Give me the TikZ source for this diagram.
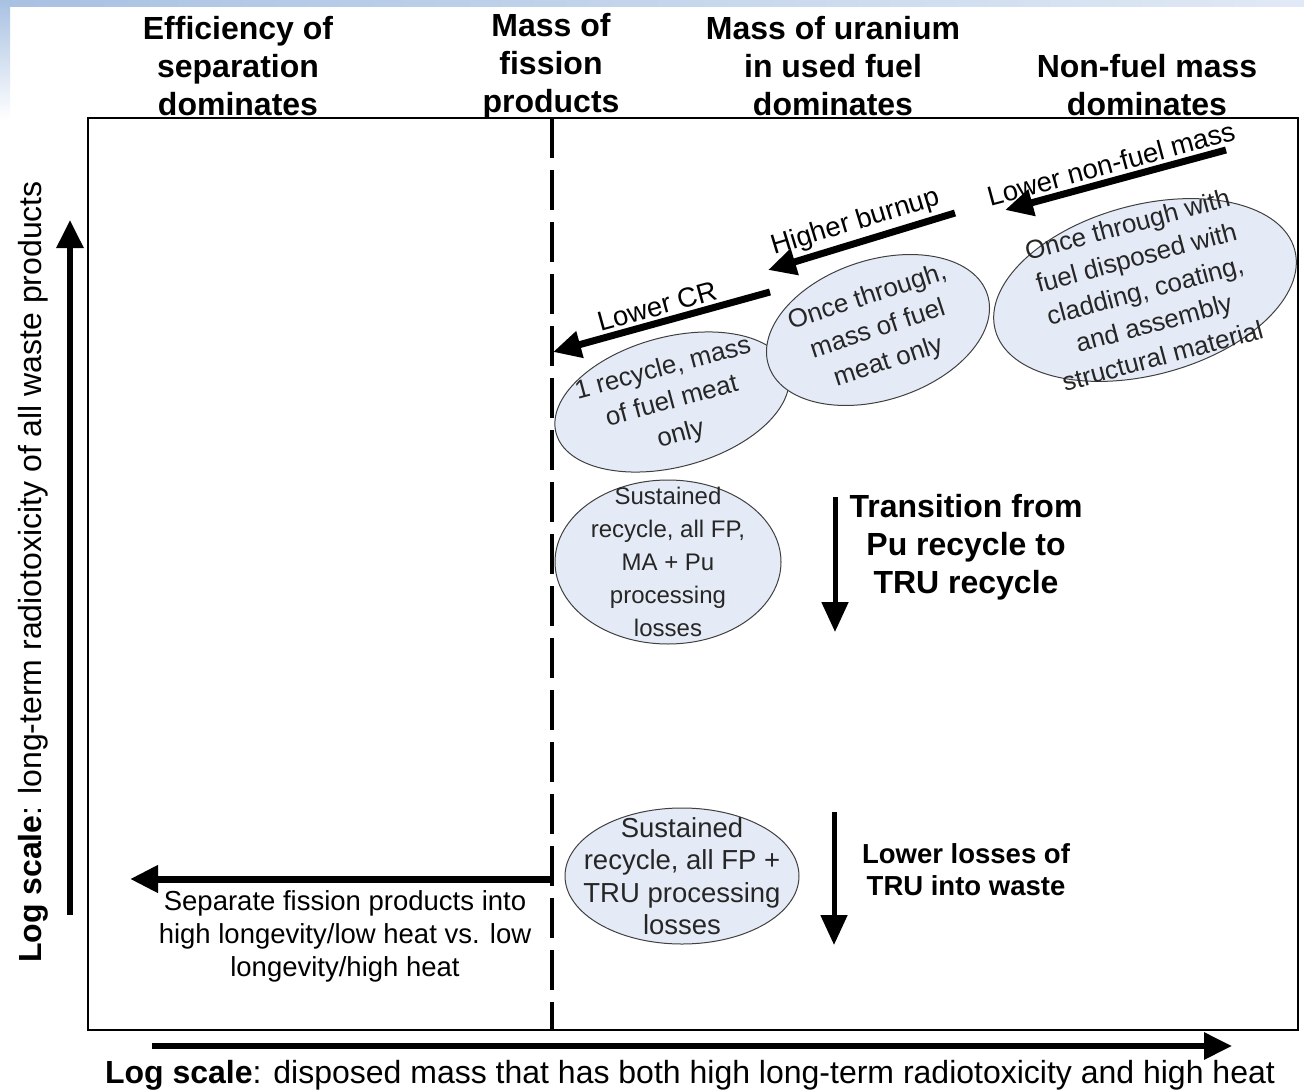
\documentclass[tikz,border=0pt]{standalone}
\usepackage{fontspec}
\setmainfont{Liberation Sans}
\usetikzlibrary{shapes.geometric}
\usetikzlibrary{arrows.meta}
\usetikzlibrary{positioning}
\definecolor{bubblefill}{RGB}{229,235,246}
\definecolor{slideblue}{RGB}{168,193,226}

\tikzset{
  head/.style={align=center,font=\bfseries\fontsize{32}{38}\selectfont},
  bubble/.style={ellipse,draw=black!75,line width=1pt,fill=bubblefill,inner sep=0pt},
  bubtext/.style={align=center,text=black!85,font=\fontsize{26}{34}\selectfont},
  plain/.style={align=center,font=\fontsize{27.5}{33}\selectfont},
  fat/.style={line width=7pt,-{Triangle[length=28pt,width=26pt]}},
  axisarrow/.style={line width=6pt,-{Triangle[length=28pt,width=26pt]}},
  downarrow/.style={line width=5pt,-{Triangle[length=30pt,width=26pt]}}
}

\begin{document}
\begin{tikzpicture}[x=1pt,y=-1pt]

	\useasboundingbox (0,0) rectangle (1304,1092);
	\fill[white] (0,0) rectangle (1304,1092);
	% slide background
	\shade[left color=slideblue,right color=slideblue!35] (0,0) rectangle (1304,6);
	\shade[top color=slideblue,bottom color=white] (0,0) rectangle (10,120);

	% headers
	\node [head] (hsep) at (238,66) {Efficiency of\\separation\\dominates};
	\node [head] (hfp) at (551,66) {Mass of\\fission\\products};
	\node [head] (hura) at (833,66) {Mass of uranium\\in used fuel\\dominates};
	\node [head] (hnon) at (1147,85) {Non-fuel mass\\dominates};

	% frame and divider
	\draw[line width=1.2pt] (88,118) rectangle (1298,1030);
	\coordinate [] (dtop) at (552,118);
	\coordinate [] (dbot) at (552,1030);
	\draw[line width=4pt,dash pattern=on 40pt off 12pt] (dtop)--(dbot);

	% axes
	\coordinate [] (ya) at (70,915);
	\coordinate [] (yb) at (70,220);
	\draw[axisarrow] (ya)--(yb);
	\node [rotate=90,font=\fontsize{32}{36}\selectfont] (ylab) at (33,572) {\textbf{Log scale}: long-term radiotoxicity of all waste products};

	\coordinate [] (xa) at (152,1046);
	\coordinate [] (xb) at (1232,1046);
	\draw[axisarrow] (xa)--(xb);
	\node [font=\fontsize{32}{36}\selectfont] (xlab) at (690,1075) {\textbf{Log scale}: disposed mass that has both high long-term radiotoxicity and high heat};

	% bubbles
	\node [bubble,rotate=15,minimum width=240pt,minimum height=130pt] (e1) at (672,402) {};
	\node [bubtext,rotate=15] (t1) at (e1.center) {1 recycle, mass\\of fuel meat\\only};

	\node [bubble,rotate=18,minimum width=230pt,minimum height=140pt] (e2) at (878,330) {};
	\node [bubtext,rotate=18] (t2) at (e2.center) {Once through,\\mass of fuel\\meat only};

	\node [bubble,rotate=15,minimum width=310pt,minimum height=170pt] (e3) at (1145,290) {};
	\node [bubtext,rotate=15] (t3) at (e3.center) {Once through with\\fuel disposed with\\cladding, coating,\\and assembly\\structural material};

	\node [bubble,minimum width=226pt,minimum height=164pt] (e4) at (668,562) {};
	\node [bubtext,font=\fontsize{24}{33}\selectfont] (t4) at (e4.center) {Sustained\\recycle, all FP,\\MA + Pu\\processing\\losses};

	\node [bubble,minimum width=234pt,minimum height=136pt] (e5) at (682,876) {};
	\node [bubtext,font=\fontsize{27.5}{32.5}\selectfont] (t5) at (e5.center) {Sustained\\recycle, all FP +\\TRU processing\\losses};

	% steps towards the fission product line
	\coordinate [] (n1) at (1226,150);
	\coordinate [] (n2) at (1005,210);
	\draw[fat] (n1)-- node[sloped,above,plain] (lnon) {Lower non-fuel mass} (n2);

	\coordinate [] (b1) at (955,213);
	\coordinate [] (b2) at (768,270);
	\draw[fat] (b1)-- node[sloped,above,plain] (lburn) {Higher burnup} (b2);

	\coordinate [] (c1) at (770,292);
	\coordinate [] (c2) at (553,352);
	\draw[fat] (c1)-- node[sloped,above,plain] (lcr) {Lower CR} (c2);

	% downward transitions
	\coordinate [] (v1) at (835,497);
	\coordinate [] (v2) at (835,632);
	\draw[downarrow] (v1)--(v2);
	\node [head] (ltru) at (966,547) {Transition from\\Pu recycle to\\TRU recycle};

	\coordinate [] (w1) at (834,812);
	\coordinate [] (w2) at (834,945);
	\draw[downarrow] (w1)--(w2);
	\node [align=center,font=\bfseries\fontsize{27.5}{32}\selectfont] (lloss) at (966,870) {Lower losses of\\TRU into waste};

	% separation of fission products
	\coordinate [] (s1) at (552,879);
	\coordinate [] (s2) at (130,879);
	\draw[fat] (s1)--(s2);
	\node [plain] (lsep) at (345,936) {Separate fission products into\\high longevity/low heat vs. low\\longevity/high heat};

\end{tikzpicture}
\end{document}
